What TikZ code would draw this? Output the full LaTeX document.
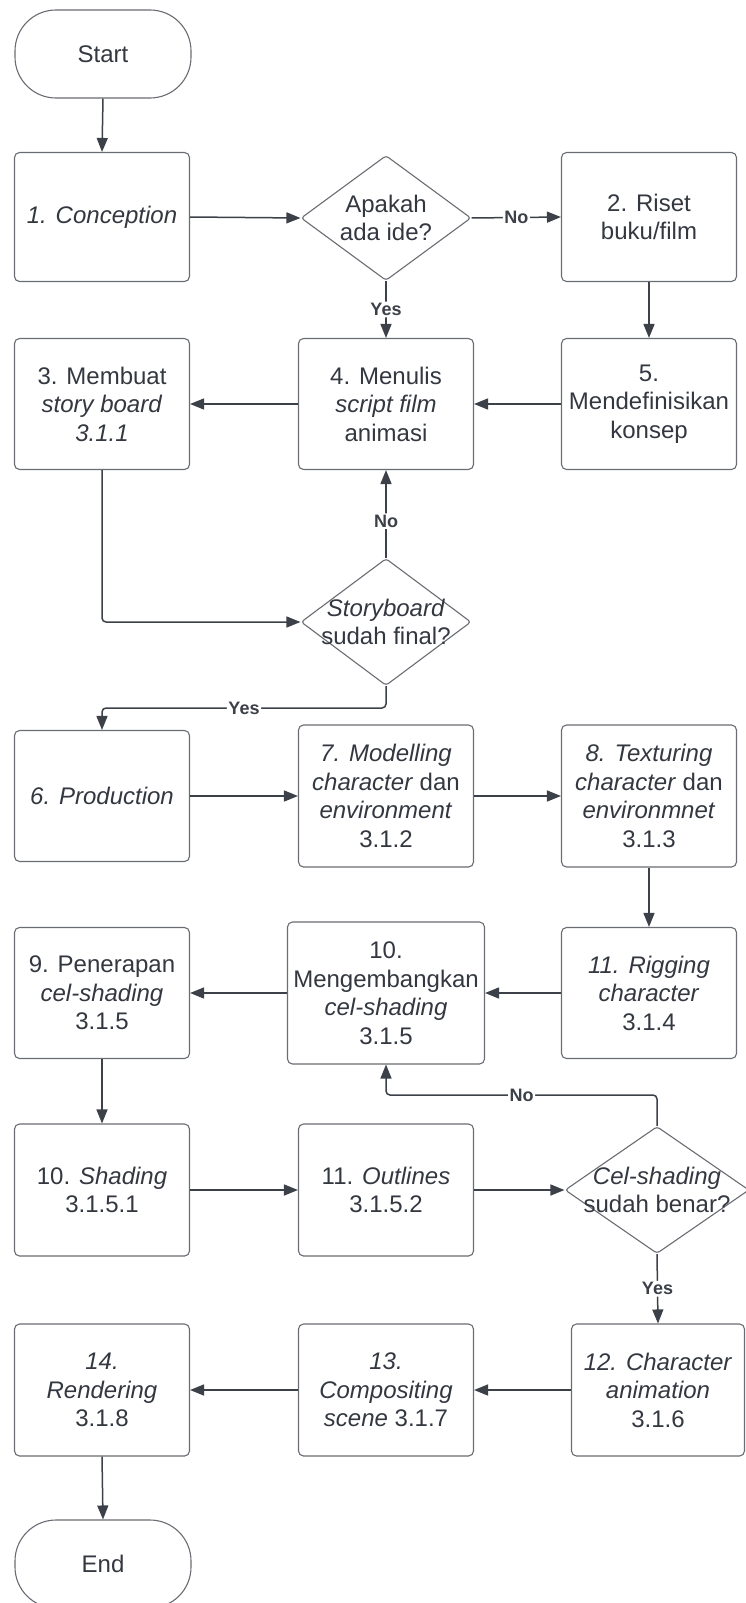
\documentclass[tikz,border=0pt]{standalone}
\usepackage{fontspec}
\setmainfont{Liberation Sans}
\usetikzlibrary{positioning,arrows.meta,shapes.geometric}
\definecolor{lineborder}{RGB}{60,64,72}
\definecolor{boxborder}{RGB}{105,108,114}
\definecolor{textcol}{RGB}{51,55,64}

\begin{document}
\begin{tikzpicture}[
    x=1pt, y=-1pt,
    font=\fontsize{24}{28.5}\selectfont,
    >={Triangle[length=14pt,width=11pt]},
    procnode/.style={rectangle, rounded corners=5pt, draw=boxborder, line width=1.1pt, minimum width=175pt, minimum height=131pt, inner sep=2pt, align=center, text=textcol},
    termnode/.style={procnode, rounded corners=41pt, minimum width=176pt, minimum height=88pt},
    decnode/.style={diamond, rounded corners=3pt, draw=boxborder, line width=1.1pt, minimum width=170pt, minimum height=127pt, inner sep=0pt},
    dectext/.style={align=center, text=textcol, inner sep=0pt},
    answer/.style={font=\fontsize{18}{20}\selectfont\bfseries, text=lineborder, fill=white, inner sep=1.5pt},
    arrow/.style={->, line width=1.5pt, draw=lineborder, rounded corners=4pt}
  ]
  \useasboundingbox (0,0) rectangle (745,1603);

  % first block: idea and script
  \node[termnode] (start) at (103,54) {Start};
  \node[procnode, minimum height=129pt] (concept) at (102,217) {\textit{1. Conception}};
  \node[decnode, minimum height=125pt, label={[dectext]center:{Apakah\\ada ide?}}] (ideq) at (386,218) {};
  \node[procnode, minimum height=129pt] (riset) at (649,217) {2. Riset\\buku/film};
  \node[procnode] (story) at (102,404) {3. Membuat\\\textit{story board}\\\textit{3.1.1}};
  \node[procnode] (script) at (386,404) {4. Menulis\\\textit{script film}\\animasi};
  \node[procnode] (konsep) at (649,404) {5.\\Mendefinisikan\\konsep};
  \node[decnode, label={[dectext]center:{\textit{Storyboard}\\sudah final?}}] (finalq) at (386,622) {};

  % production
  \node[procnode] (prod) at (102,796) {\textit{6. Production}};
  \node[procnode, minimum height=142pt] (model) at (386,796) {\textit{7. Modelling}\\\textit{character} dan\\\textit{environment}\\3.1.2};
  \node[procnode, minimum height=142pt] (texture) at (649,796) {\textit{8. Texturing}\\\textit{character} dan\\\textit{environmnet}\\3.1.3};
  \node[procnode] (terap) at (102,993) {9. Penerapan\\\textit{cel-shading}\\3.1.5};
  \node[procnode, minimum width=197pt, minimum height=142pt] (kembang) at (386,993) {10.\\Mengembangkan\\\textit{cel-shading}\\3.1.5};
  \node[procnode] (rig) at (649,993) {\textit{11. Rigging}\\\textit{character}\\3.1.4};
  \node[procnode, minimum height=132pt] (shading) at (102,1190) {10. \textit{Shading}\\3.1.5.1};
  \node[procnode, minimum height=132pt] (outline) at (386,1190) {11. \textit{Outlines}\\3.1.5.2};
  \node[decnode, minimum width=184pt, label={[dectext]center:{\textit{Cel-shading}\\sudah benar?}}] (celq) at (657,1190) {};
  \node[procnode, minimum width=173pt, minimum height=132pt] (anim) at (658,1390) {\textit{12. Character}\\\textit{animation}\\3.1.6};
  \node[procnode, minimum height=132pt] (compo) at (386,1390) {\textit{13.}\\\textit{Compositing}\\\textit{scene} 3.1.7};
  \node[procnode, minimum height=132pt] (render) at (102,1390) {\textit{14.}\\\textit{Rendering}\\3.1.8};
  \node[termnode] (end) at (103,1564) {End};

  \coordinate (yesturn) at (386,708);
  \coordinate (noturn) at (657,1095);

  \draw[arrow] (start.south) -- (concept.north);
  \draw[arrow] (concept.east) -- (ideq.west);
  \draw[arrow] (ideq.east) -- node[answer] {No} (riset.west);
  \draw[arrow] (ideq.south) -- node[answer] {Yes} (script.north);
  \draw[arrow] (riset.south) -- (konsep.north);
  \draw[arrow] (konsep.west) -- (script.east);
  \draw[arrow] (script.west) -- (story.east);
  \draw[arrow] (story.south) |- (finalq.west);
  \draw[arrow] (finalq.north) -- node[answer, pos=0.42] {No} (script.south);
  \draw[arrow] (finalq.south) -- (yesturn) -| node[answer, pos=0.25] {Yes} (prod.north);

  \draw[arrow] (prod.east) -- (model.west);
  \draw[arrow] (model.east) -- (texture.west);
  \draw[arrow] (texture.south) -- (rig.north);
  \draw[arrow] (rig.west) -- (kembang.east);
  \draw[arrow] (kembang.west) -- (terap.east);
  \draw[arrow] (terap.south) -- (shading.north);
  \draw[arrow] (shading.east) -- (outline.west);
  \draw[arrow] (outline.east) -- (celq.west);
  \draw[arrow] (celq.north) -- (noturn) -| node[answer, pos=0.25] {No} (kembang.south);
  \draw[arrow] (celq.south) -- node[answer] {Yes} (anim.north);
  \draw[arrow] (anim.west) -- (compo.east);
  \draw[arrow] (compo.west) -- (render.east);
  \draw[arrow] (render.south) -- (end.north);
\end{tikzpicture}
\end{document}
